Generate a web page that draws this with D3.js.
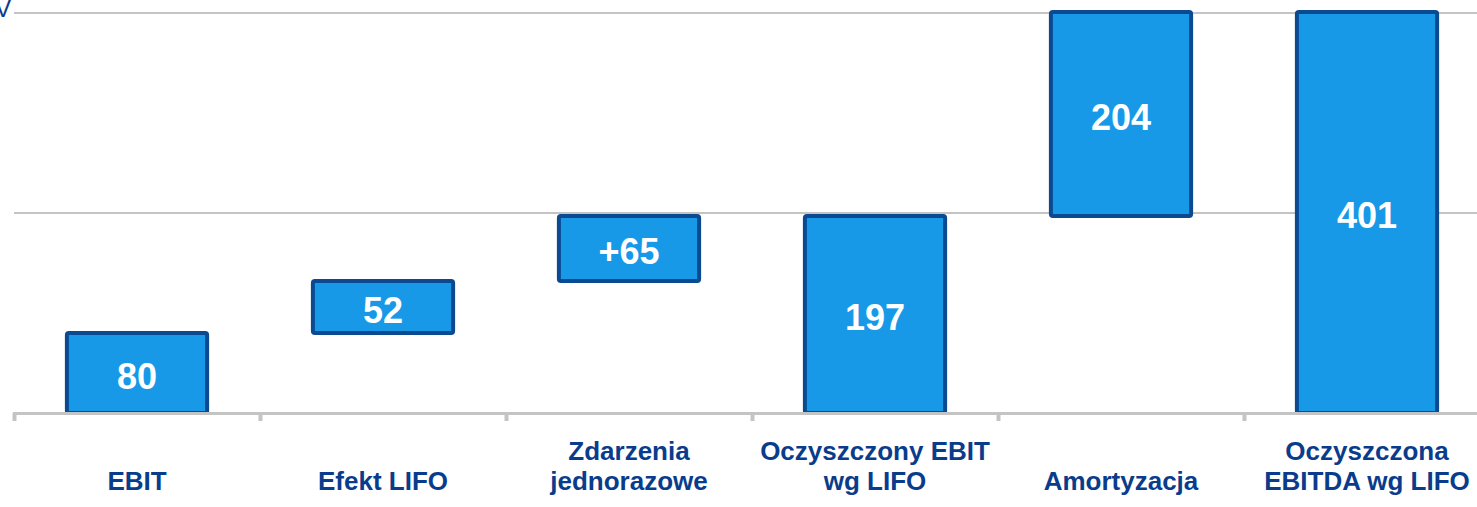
<!DOCTYPE html>
<html>
<head>
<meta charset="utf-8">
<script src="https://cdn.jsdelivr.net/npm/d3@7"></script>
<style>
  body { margin: 0; background: #fff; }
  svg { display: block; font-family: "Liberation Sans", Arial, sans-serif; }
</style>
</head>
<body>
<svg id="chart" width="1477" height="507"></svg>
<script>
// categories (lines of each axis label)
var categories = [
  ['EBIT'],
  ['Efekt LIFO'],
  ['Zdarzenia', 'jednorazowe'],
  ['Oczyszczony EBIT', 'wg LIFO'],
  ['Amortyzacja'],
  ['Oczyszczona', 'EBITDA wg LIFO']
];
// bar start / end values (waterfall)
var barStart = [0, 80, 132, 0, 197, 0];
var barEnd   = [80, 132, 197, 197, 401, 401];
var barLabels = ['80', '52', '+65', '197', '204', '401'];
var gridTicks = [0, 200, 400];

var svg = d3.select('#chart');

var x = d3.scaleBand()
  .domain(d3.range(categories.length))
  .range([14, 14 + 246 * 6])
  .paddingInner(0.43)
  .paddingOuter(0.215);

var y = d3.scaleLinear().domain([0, 400]).range([413, 13]);

// gridlines
svg.selectAll('line.grid')
  .data(gridTicks.filter(function(d){ return d > 0; }))
  .enter().append('line')
    .attr('x1', 14).attr('x2', 1477)
    .attr('y1', function(d){ return y(d); })
    .attr('y2', function(d){ return y(d); })
    .style('stroke', '#c4c4c4')
    .style('stroke-width', 2);

// unit label, cut off at left edge as in the original
svg.append('text')
  .attr('x', 11).attr('y', 17)
  .attr('text-anchor', 'end')
  .style('font-size', '24px')
  .style('fill', '#0a3c8c')
  .text('V');

// bars
var idx = d3.range(categories.length);
svg.selectAll('rect.bar')
  .data(idx)
  .enter().append('rect')
    .attr('x', function(i){ return x(i); })
    .attr('width', x.bandwidth())
    .attr('y', function(i){ return y(barEnd[i]); })
    .attr('height', function(i){ return y(barStart[i]) - y(barEnd[i]); })
    .attr('rx', 2)
    .style('fill', '#1799e8')
    .style('stroke', '#0b4a91')
    .style('stroke-width', 4);

// axis baseline and ticks
var axis = d3.axisBottom(d3.scaleLinear().domain([0, 6]).range([14, 14 + 246 * 6]))
  .ticks(6).tickSize(8).tickFormat('');
var ax = svg.append('g').attr('transform', 'translate(0,413)').call(axis);
ax.select('.domain').style('stroke', '#c4c4c4').style('stroke-width', 3);
ax.selectAll('.tick line').style('stroke', '#c4c4c4').style('stroke-width', 4);

// value labels
svg.selectAll('text.val')
  .data(idx)
  .enter().append('text')
    .attr('x', function(i){ return x(i) + x.bandwidth() / 2; })
    .attr('y', function(i){ return (y(barStart[i]) + y(barEnd[i])) / 2 + 3; })
    .attr('text-anchor', 'middle')
    .attr('dominant-baseline', 'central')
    .style('font-size', '36px')
    .style('font-weight', 'bold')
    .style('fill', '#fff')
    .text(function(i){ return barLabels[i]; });

// category labels
var cat = svg.selectAll('text.cat')
  .data(idx)
  .enter().append('text')
    .attr('text-anchor', 'middle')
    .style('font-size', '26px')
    .style('font-weight', 'bold')
    .style('fill', '#0a3c8c');
cat.each(function(i){
  var lines = categories[i];
  var t = d3.select(this);
  lines.forEach(function(l, k){
    t.append('tspan')
      .attr('x', x(i) + x.bandwidth() / 2)
      .attr('y', 490 - (lines.length - 1 - k) * 30)
      .text(l);
  });
});
</script>
</body>
</html>
